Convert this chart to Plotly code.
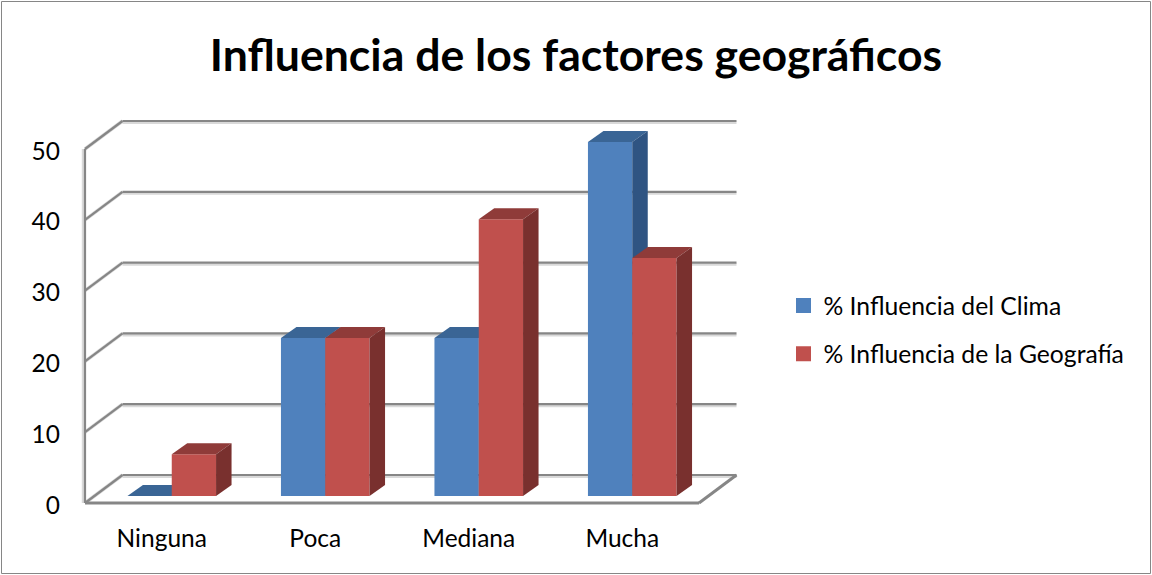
import plotly.graph_objects as go

categories = ["Ninguna", "Poca", "Mediana", "Mucha"]
clima = [0, 22.3, 22.3, 50]
geografia = [5.9, 22.3, 39.1, 33.6]
y_ticks = [0, 10, 20, 30, 40, 50]
series_names = ["% Influencia del Clima", "% Influencia de la Geografía"]
title_text = "Influencia de los factores geográficos"

W, H = 1152, 575
CAT_PX, VAL_PX = 153.5, 7.08
X0_PX, Y0_PX = 161.75, 503
L, R, T, B = 70, 745, 115, 515
xr = [(L - X0_PX) / CAT_PX, (R - X0_PX) / CAT_PX]
yr = [(Y0_PX - B) / VAL_PX, (Y0_PX - T) / VAL_PX]

FONT = "Lato"
GRID, SHADOW = "#868686", "#d9d9d9"
WALL_DX, WALL_DY = 37.5 / CAT_PX, 28 / VAL_PX
PLANE_DX, BASE = 10 / CAT_PX, 7 / VAL_PX
BAR_W = 44.3 / CAT_PX
DEPTH_DX, DEPTH_DY = 15.5 / CAT_PX, 11 / VAL_PX

fig = go.Figure()
shapes = []


def seg(x0, y0, x1, y1, color, width):
    shapes.append(dict(type="line", layer="below", xref="x", yref="y", x0=x0, y0=y0, x1=x1, y1=y1,
                       line=dict(color=color, width=width)))


LEFT, RIGHT = -0.5, 3.5
SH = 1.8 / VAL_PX
for v in y_ticks:
    seg(LEFT + WALL_DX, v + WALL_DY - SH, RIGHT + WALL_DX, v + WALL_DY - SH, SHADOW, 2.5)
    seg(LEFT, v, LEFT + WALL_DX, v + WALL_DY, SHADOW, 3.5)
for v in y_ticks:
    seg(LEFT + WALL_DX, v + WALL_DY, RIGHT + WALL_DX, v + WALL_DY, GRID, 2.2)
    seg(LEFT, v, LEFT + WALL_DX, v + WALL_DY, GRID, 2.2)
seg(LEFT - 1.2 / CAT_PX, y_ticks[0], LEFT - 1.2 / CAT_PX, y_ticks[-1], SHADOW, 4)
seg(LEFT, y_ticks[0], LEFT, y_ticks[-1], GRID, 2.2)
seg(LEFT, y_ticks[0], RIGHT, y_ticks[0], GRID, 3)
seg(RIGHT, y_ticks[0], RIGHT + WALL_DX, y_ticks[0] + WALL_DY, GRID, 3)
shapes.append(dict(type="rect", xref="paper", yref="paper", layer="below",
                   x0=-L / (R - L) + 1.5 / (R - L), x1=(W - L - 1.5) / (R - L),
                   y0=(B - H + 1.5) / (B - T), y1=(B - 1.5) / (B - T),
                   line=dict(color="#868686", width=1)))

styles = [("#4F81BD", "#3A6595", "#2F5482", "x", "y"),
          ("#C0504D", "#8F3B39", "#79302E", "x2", "y2")]
shifts = [-BAR_W / 2, BAR_W / 2]

for values, (front, top, side, xa, ya), shift, name in zip((clima, geografia), styles, shifts, series_names):
    xs = [i + PLANE_DX + shift for i in range(len(categories))]
    fig.add_trace(go.Bar(x=xs, y=values, base=[BASE] * len(values), width=BAR_W, marker=dict(color=front, line=dict(width=0)),
                         xaxis=xa, yaxis=ya, showlegend=False, hoverinfo="skip"))
    for xc, v in zip(xs, values):
        xl, xr_ = xc - BAR_W / 2, xc + BAR_W / 2
        yb, yt = BASE, BASE + v
        fig.add_trace(go.Scatter(
            x=[xl, xr_, xr_ + DEPTH_DX, xl + DEPTH_DX, xl],
            y=[yt, yt, yt + DEPTH_DY, yt + DEPTH_DY, yt],
            mode="lines", fill="toself", fillcolor=top, line=dict(width=0, color=top),
            xaxis=xa, yaxis=ya, showlegend=False, hoverinfo="skip"))
        fig.add_trace(go.Scatter(
            x=[xr_, xr_ + DEPTH_DX, xr_ + DEPTH_DX, xr_, xr_],
            y=[yb, yb + DEPTH_DY, yt + DEPTH_DY, yt, yb],
            mode="lines", fill="toself", fillcolor=side, line=dict(width=0, color=side),
            xaxis=xa, yaxis=ya, showlegend=False, hoverinfo="skip"))

for name, st in zip(series_names, styles):
    fig.add_trace(go.Scatter(x=[None], y=[None], mode="markers", name=name, legendgroup=name,
                             marker=dict(symbol="square", size=15, color=st[0]),
                             xaxis=st[3], yaxis=st[4]))

fig.update_layout(
    width=W, height=H, autosize=False,
    margin=dict(l=L, r=W - R, t=T, b=H - B, pad=0),
    paper_bgcolor="white", plot_bgcolor="rgba(0,0,0,0)",
    barmode="overlay",
    font=dict(family=FONT, color="#000000", size=24.5),
    title=dict(text="<b>" + title_text + "</b>", x=576 / W, xanchor="center", y=1 - 55 / H, yanchor="middle",
               font=dict(family=FONT, size=44.6, color="#000000")),
    xaxis=dict(range=xr, tickvals=list(range(len(categories))), ticktext=categories, showgrid=False, zeroline=False,
               showline=False, ticks="", ticklabelstandoff=6, tickfont=dict(size=24.5)),
    yaxis=dict(range=yr, tickvals=y_ticks, showgrid=False, zeroline=False, showline=False, ticks="",
               ticklabelstandoff=9, ticklabelshift=2, tickfont=dict(size=24.5)),
    xaxis2=dict(range=xr, overlaying="x", visible=False),
    yaxis2=dict(range=yr, overlaying="y", visible=False),
    legend=dict(x=(783.5 - L) / (R - L), xanchor="left", y=(B - 283) / (B - T), yanchor="top", tracegroupgap=13,
                font=dict(size=24.7), bgcolor="rgba(0,0,0,0)", itemwidth=30),
    shapes=shapes,
)

fig.write_html("out.html", config=dict(displayModeBar=False),
               post_script="document.body.style.margin='0';document.documentElement.style.overflow='hidden';")
